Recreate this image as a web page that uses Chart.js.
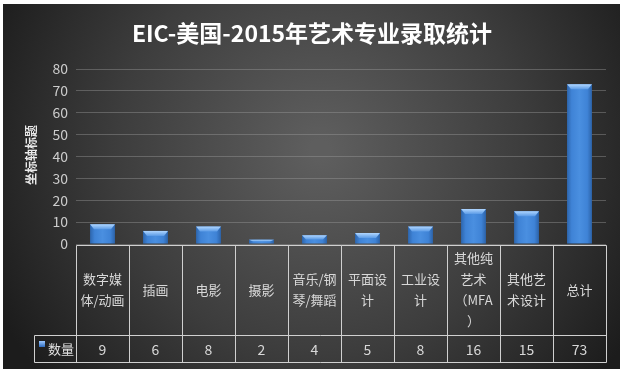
<!DOCTYPE html>
<html>
<head>
<meta charset="utf-8">
<script src="https://cdn.jsdelivr.net/npm/chart.js@4/dist/chart.umd.min.js"></script>
<style>
html,body{margin:0;padding:0;background:#fff;}
#wrap{width:625px;height:374px;position:relative;}
</style>
</head>
<body>
<div id="wrap"><canvas id="c" width="625" height="374"></canvas></div>
<script>
const chartTitle = "EIC-美国-2015年艺术专业录取统计";
const yAxisTitle = "坐标轴标题";
const seriesName = "数量";
const categories = ["数字媒\n体/动画", "插画", "电影", "摄影", "音乐/钢\n琴/舞蹈", "平面设\n计", "工业设\n计", "其他纯\n艺术\n（MFA\n）", "其他艺\n术设计", "总计"];
const values = [9, 6, 8, 2, 4, 5, 8, 16, 15, 73];
const yTicks = [0, 10, 20, 30, 40, 50, 60, 70, 80];

const FONT = '"Noto Sans CJK SC", "Noto Sans", sans-serif';

const bgPlugin = {
  id: 'bg',
  beforeDraw(chart) {
    const ctx = chart.ctx;
    ctx.save();
    ctx.fillStyle = '#ffffff';
    ctx.fillRect(0, 0, chart.width, chart.height);
    const g = ctx.createRadialGradient(320, 150, 10, 320, 150, 360);
    g.addColorStop(0, '#5e5e5e');
    g.addColorStop(0.55, '#3d3d3d');
    g.addColorStop(1, '#1c1c1c');
    ctx.fillStyle = g;
    ctx.fillRect(3, 4, 617, 365);
    // title
    ctx.fillStyle = '#ffffff';
    ctx.font = 'bold 23px ' + FONT;
    ctx.textAlign = 'center';
    ctx.textBaseline = 'middle';
    ctx.fillText(chartTitle, 312, 33);
    // y axis title
    ctx.translate(31, 155);
    ctx.rotate(-Math.PI / 2);
    ctx.font = 'bold 12px ' + FONT;
    ctx.fillStyle = '#e8e8e8';
    ctx.fillText(yAxisTitle, 0, 0);
    ctx.restore();
  }
};

const bevelPlugin = {
  id: 'bevel',
  afterDatasetsDraw(chart) {
    const ctx = chart.ctx;
    const meta = chart.getDatasetMeta(0);
    ctx.save();
    meta.data.forEach((bar) => {
      const w = bar.width;
      const l = bar.x - w / 2, r = bar.x + w / 2, t = bar.y, b = bar.base;
      const h = Math.min(5, (b - t) / 2);
      const g = ctx.createLinearGradient(0, t, 0, t + h);
      g.addColorStop(0, '#b0d6ff');
      g.addColorStop(1, '#5b9be6');
      ctx.fillStyle = g;
      ctx.beginPath();
      ctx.moveTo(l, t);
      ctx.lineTo(r, t);
      ctx.lineTo(r - 4, t + h);
      ctx.lineTo(l + 4, t + h);
      ctx.closePath();
      ctx.fill();
    });
    ctx.restore();
  }
};

const tablePlugin = {
  id: 'table',
  afterDraw(chart) {
    const ctx = chart.ctx;
    const xs = chart.scales.x;
    const area = chart.chartArea;
    const n = categories.length;
    const colW = (area.right - area.left) / n;
    const top = area.bottom + 1;
    const mid = 335;
    const bot = 362;
    const legL = 34;
    ctx.save();
    ctx.strokeStyle = '#d0d0d0';
    ctx.lineWidth = 1;
    ctx.beginPath();
    ctx.moveTo(area.left + 0.5, top + 0.5); ctx.lineTo(area.right + 0.5, top + 0.5);
    ctx.moveTo(legL + 0.5, mid + 0.5); ctx.lineTo(area.right + 0.5, mid + 0.5);
    ctx.moveTo(legL + 0.5, bot + 0.5); ctx.lineTo(area.right + 0.5, bot + 0.5);
    ctx.moveTo(legL + 0.5, mid + 0.5); ctx.lineTo(legL + 0.5, bot + 0.5);
    for (let i = 0; i <= n; i++) {
      const x = Math.round(xs.getPixelForValue(i) - colW / 2) + 0.5;
      ctx.moveTo(x, top + 0.5); ctx.lineTo(x, bot + 0.5);
    }
    ctx.stroke();

    ctx.fillStyle = '#d8d8d8';
    ctx.font = '13px ' + FONT;
    ctx.textAlign = 'center';
    ctx.textBaseline = 'middle';
    const lh = 21;
    const cy = (top + mid) / 2;
    categories.forEach((c, i) => {
      const lines = c.split('\n');
      const x = xs.getPixelForValue(i);
      const y0 = cy - (lines.length - 1) * lh / 2;
      lines.forEach((ln, k) => ctx.fillText(ln, x, y0 + k * lh));
    });
    ctx.font = '14px ' + FONT;
    const vy = (mid + bot) / 2 + 1;
    values.forEach((v, i) => {
      ctx.fillText(String(v), xs.getPixelForValue(i), vy);
    });
    const kg = ctx.createLinearGradient(0, 341, 0, 347);
    kg.addColorStop(0, '#9cc8ff');
    kg.addColorStop(1, '#2f6cc0');
    ctx.fillStyle = kg;
    ctx.fillRect(39, 341, 6, 6);
    ctx.fillStyle = '#e0e0e0';
    ctx.font = '13px ' + FONT;
    ctx.textAlign = 'left';
    ctx.fillText(seriesName, 48, vy);
    ctx.restore();
  }
};

new Chart(document.getElementById('c'), {
  type: 'bar',
  data: {
    labels: categories,
    datasets: [{
      label: seriesName,
      data: values,
      backgroundColor: (context) => {
        const chart = context.chart;
        const area = chart.chartArea;
        if (!area || !chart.scales.x) return '#3f84d8';
        const x = chart.scales.x.getPixelForValue(context.dataIndex);
        const g = chart.ctx.createLinearGradient(x - 13, 0, x + 13, 0);
        g.addColorStop(0, '#2b62a8');
        g.addColorStop(0.2, '#3f83d6');
        g.addColorStop(0.5, '#4a8fe0');
        g.addColorStop(0.8, '#3f83d6');
        g.addColorStop(1, '#2a5fa3');
        return g;
      },
      borderWidth: 0,
      categoryPercentage: 1,
      barPercentage: 0.47
    }]
  },
  options: {
    responsive: false,
    animation: false,
    devicePixelRatio: 1,
    layout: { padding: { top: 69, bottom: 130, left: 0, right: 19 } },
    plugins: { legend: { display: false }, title: { display: false }, tooltip: { enabled: false } },
    scales: {
      x: { display: false, offset: true },
      y: {
        min: 0, max: 80,
        afterFit(scale) { scale.width = 76; },
        afterBuildTicks(scale) { scale.ticks = yTicks.map(v => ({ value: v })); },
        ticks: { color: '#cccccc', font: { family: FONT, size: 14 }, padding: 8 },
        grid: { color: 'rgba(160,160,160,0.4)', drawTicks: false, lineWidth: 1 },
        border: { display: false }
      }
    }
  },
  plugins: [bgPlugin, bevelPlugin, tablePlugin]
});
</script>
</body>
</html>
